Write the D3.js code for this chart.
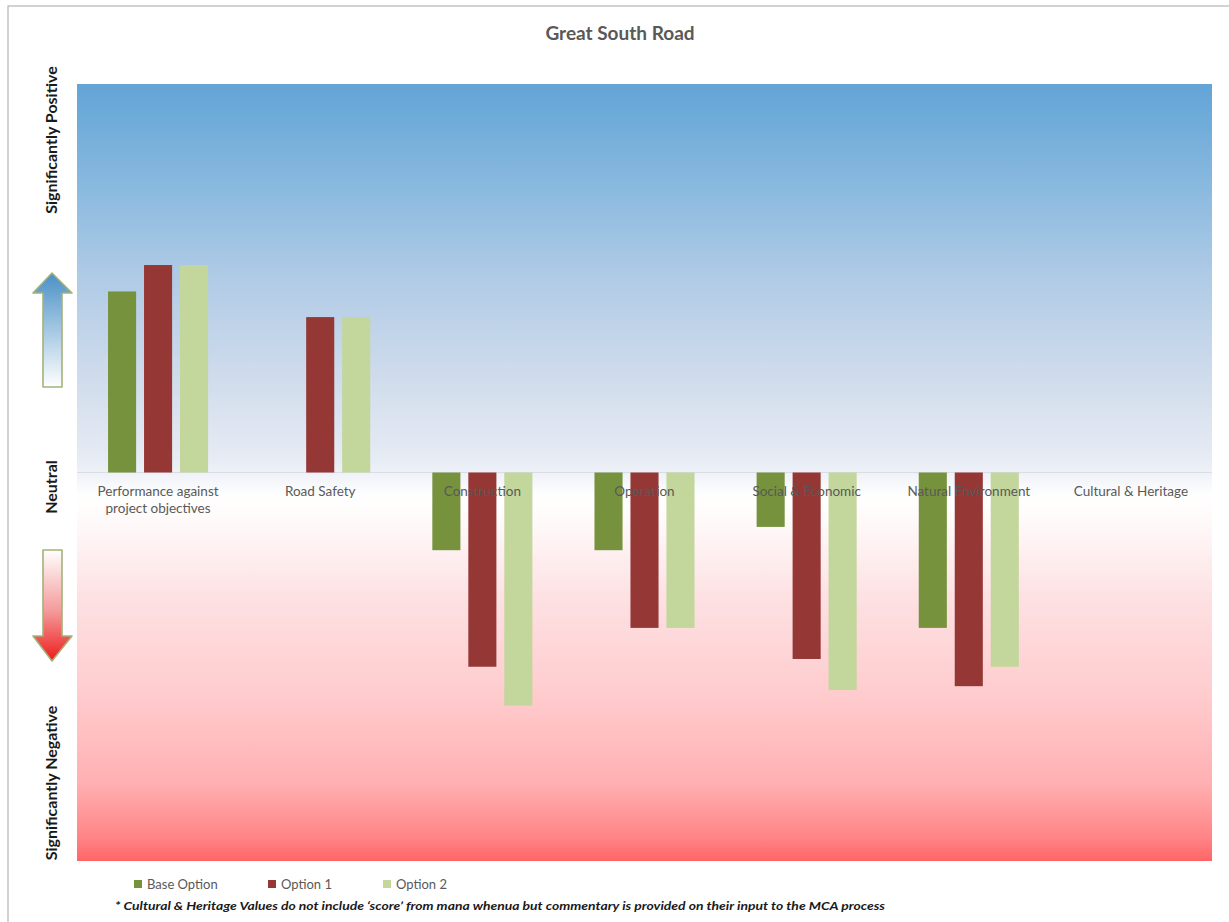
<!DOCTYPE html>
<html>
<head>
<meta charset="utf-8">
<script src="https://cdn.jsdelivr.net/npm/d3@7"></script>
<style>
  html, body { margin: 0; padding: 0; background: #ffffff; }
  svg { display: block; }
  text { font-family: "Liberation Sans Narrow", Lato, "Open Sans", sans-serif; }
</style>
</head>
<body>
<div id="chart"></div>
<script>
// ---- Data ----
const categories = [
  "Performance against project objectives",
  "Road Safety",
  "Construction",
  "Operation",
  "Social & Economic",
  "Natural Environment",
  "Cultural & Heritage"
];
const categoryLines = [
  ["Performance against", "project objectives"],
  ["Road Safety"],
  ["Construction"],
  ["Operation"],
  ["Social & Economic"],
  ["Natural Environment"],
  ["Cultural & Heritage"]
];
const seriesNames = ["Base Option", "Option 1", "Option 2"];
const baseOption = [2.33, null, -1, -1, -0.7, -2, null];
const option1    = [2.67, 2, -2.5, -2, -2.4, -2.75, null];
const option2    = [2.67, 2, -3, -2, -2.8, -2.5, null];
const seriesColors = ["#76923c", "#953735", "#c3d69b"];
const yDomain = [-5, 5];
const title = "Great South Road";
const yLabels = ["Significantly Positive", "Neutral", "Significantly Negative"];
const footnote = "* Cultural & Heritage Values do not include \u2018score\u2019 from mana whenua but commentary is provided on their input to the MCA process";

const seriesValues = [baseOption, option1, option2];

// ---- Layout ----
const W = 1229, H = 922;
const plot = { left: 77, right: 1212, top: 84, bottom: 861 };

const svg = d3.select("#chart").append("svg").attr("width", W).attr("height", H);
const defs = svg.append("defs");

// Background gradient
const bg = defs.append("linearGradient").attr("id", "bgGrad")
  .attr("x1", 0).attr("y1", 0).attr("x2", 0).attr("y2", 1);
[
  [0.00, "#64a4d6"], [0.03, "#6aa9d8"], [0.15, "#8fbce0"], [0.25, "#b0cbe6"],
  [0.38, "#d0dcec"], [0.48, "#e6ebf4"], [0.50, "#eef1f7"], [0.53, "#ffffff"],
  [0.56, "#fffafa"], [0.66, "#fde1e3"], [0.79, "#ffcbcd"], [0.90, "#ffb0b2"],
  [0.97, "#ff8486"], [1.00, "#ff6565"]
].forEach(([o, c]) => bg.append("stop").attr("offset", o).attr("stop-color", c));

const upG = defs.append("linearGradient").attr("id", "upGrad")
  .attr("x1", 0).attr("y1", 0).attr("x2", 0).attr("y2", 1);
upG.append("stop").attr("offset", 0).attr("stop-color", "#4a90c6");
upG.append("stop").attr("offset", 1).attr("stop-color", "#ffffff");
const dnG = defs.append("linearGradient").attr("id", "dnGrad")
  .attr("x1", 0).attr("y1", 0).attr("x2", 0).attr("y2", 1);
dnG.append("stop").attr("offset", 0).attr("stop-color", "#ffffff");
dnG.append("stop").attr("offset", 0.55).attr("stop-color", "#f49a9a");
dnG.append("stop").attr("offset", 1).attr("stop-color", "#ee1c1c");

// Outer frame
svg.append("rect").attr("x", 8).attr("y", 6).attr("width", 1240).attr("height", 940)
  .attr("fill", "none").attr("stroke", "#a6a6a6").attr("stroke-width", 1);

// Plot background
svg.append("rect").attr("x", plot.left).attr("y", plot.top)
  .attr("width", plot.right - plot.left).attr("height", plot.bottom - plot.top)
  .attr("fill", "url(#bgGrad)");

// Scales
const y = d3.scaleLinear().domain(yDomain).range([plot.bottom, plot.top]);
const x0 = d3.scaleBand().domain(categories).range([plot.left, plot.right])
  .paddingInner(0.383).paddingOuter(0.1915);
const x1 = d3.scaleBand().domain(seriesNames).range([0, x0.bandwidth()])
  .paddingInner(0.22).paddingOuter(0);

// Zero line
svg.append("line").attr("x1", plot.left).attr("x2", plot.right)
  .attr("y1", y(0)).attr("y2", y(0)).attr("stroke", "#d8dde6").attr("stroke-width", 1);

// Bars
seriesNames.forEach((s, si) => {
  const data = categories.map((c, i) => ({ c, v: seriesValues[si][i] })).filter(d => d.v !== null);
  svg.append("g").selectAll("rect").data(data).join("rect")
    .attr("x", d => x0(d.c) + x1(s))
    .attr("width", x1.bandwidth())
    .attr("y", d => y(Math.max(0, d.v)))
    .attr("height", d => Math.abs(y(d.v) - y(0)))
    .attr("fill", seriesColors[si]);
});

// Category labels
const labG = svg.append("g");
categories.forEach((c, i) => {
  const t = labG.append("text")
    .attr("x", x0(c) + x0.bandwidth() / 2)
    .attr("y", y(0) + 23)
    .attr("text-anchor", "middle")
    .attr("font-size", 13.5)
    .attr("fill", "#595959");
  categoryLines[i].forEach((ln, j) => {
    t.append("tspan").attr("x", x0(c) + x0.bandwidth() / 2).attr("dy", j === 0 ? 0 : 17).text(ln);
  });
});

// Title
svg.append("text").attr("x", 620).attr("y", 40).attr("text-anchor", "middle")
  .attr("font-size", 19).attr("font-weight", "bold").attr("fill", "#595959").text(title);

// Y side labels
const yLabPos = [140, 487, 783];
yLabels.forEach((t, i) => {
  svg.append("text")
    .attr("transform", `translate(57,${yLabPos[i]}) rotate(-90)`)
    .attr("text-anchor", "middle")
    .attr("font-size", 16).attr("font-weight", "bold").attr("fill", "#1a1a1a").text(t);
});

// Arrows
const ax = 52;
const upPath = d3.path();
upPath.moveTo(ax, 273); upPath.lineTo(ax + 20, 293); upPath.lineTo(ax + 10, 293);
upPath.lineTo(ax + 10, 387); upPath.lineTo(ax - 9, 387); upPath.lineTo(ax - 9, 293);
upPath.lineTo(ax - 19, 293); upPath.closePath();
svg.append("path").attr("d", upPath.toString()).attr("fill", "url(#upGrad)")
  .attr("stroke", "#a3b27a").attr("stroke-width", 1.6).attr("stroke-linejoin", "round");

const dnPath = d3.path();
dnPath.moveTo(ax - 9, 550); dnPath.lineTo(ax + 10, 550); dnPath.lineTo(ax + 10, 636);
dnPath.lineTo(ax + 20, 636); dnPath.lineTo(ax, 661); dnPath.lineTo(ax - 19, 636);
dnPath.lineTo(ax - 9, 636); dnPath.closePath();
svg.append("path").attr("d", dnPath.toString()).attr("fill", "url(#dnGrad)")
  .attr("stroke", "#a3b27a").attr("stroke-width", 1.6).attr("stroke-linejoin", "round");

// Legend
const legX = [134, 268, 383];
seriesNames.forEach((s, i) => {
  svg.append("rect").attr("x", legX[i]).attr("y", 880).attr("width", 8).attr("height", 8)
    .attr("fill", seriesColors[i]);
  svg.append("text").attr("x", legX[i] + 13).attr("y", 889).attr("font-size", 13)
    .attr("fill", "#595959").text(s);
});

// Footnote
svg.append("text").attr("x", 115).attr("y", 910).attr("font-size", 12)
  .attr("font-weight", "bold").attr("font-style", "italic").attr("fill", "#1a1a1a")
  .attr("textLength", 770).attr("lengthAdjust", "spacingAndGlyphs")
  .text(footnote);
</script>
</body>
</html>
